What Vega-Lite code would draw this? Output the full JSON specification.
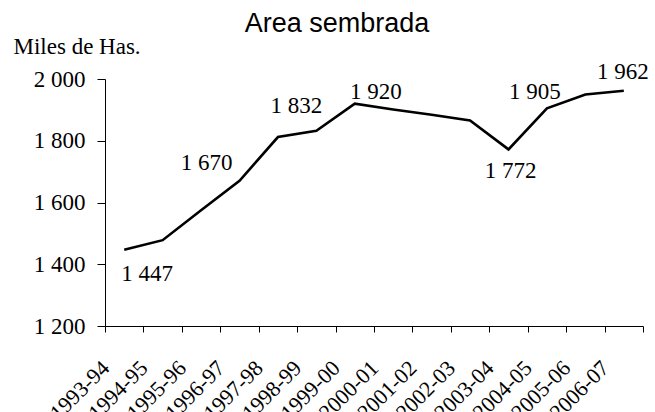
{
  "$schema": "https://vega.github.io/schema/vega-lite/v6.json",
  "width": 538,
  "height": 247,
  "autosize": {"type": "none"},
  "padding": {"left": 105, "top": 79, "right": 12, "bottom": 86},
  "background": "white",
  "title": {
    "text": "Area sembrada",
    "font": "Liberation Sans",
    "fontSize": 27,
    "fontWeight": "normal",
    "color": "black",
    "anchor": "middle",
    "frame": "group",
    "dx": -37,
    "dy": 7
  },
  "data": {
    "values": [
      {"season": "1993-94", "area": 1447},
      {"season": "1994-95", "area": 1478},
      {"season": "1995-96", "area": 1575},
      {"season": "1996-97", "area": 1670},
      {"season": "1997-98", "area": 1812},
      {"season": "1998-99", "area": 1832},
      {"season": "1999-00", "area": 1920},
      {"season": "2000-01", "area": 1901},
      {"season": "2001-02", "area": 1884},
      {"season": "2002-03", "area": 1866},
      {"season": "2003-04", "area": 1772},
      {"season": "2004-05", "area": 1905},
      {"season": "2005-06", "area": 1950},
      {"season": "2006-07", "area": 1962}
    ]
  },
  "encoding": {
    "x": {
      "field": "season",
      "type": "ordinal",
      "sort": null,
      "scale": {"type": "band", "paddingInner": 0, "paddingOuter": 0},
      "axis": {
        "title": null,
        "tickBand": "extent",
        "tickSize": 6,
        "tickColor": "black",
        "domainColor": "black",
        "labelAngle": -45,
        "labelAlign": "right",
        "labelBaseline": "middle",
        "labelOffset": -19,
        "labelPadding": 32,
        "labelFont": "Times New Roman, Liberation Serif, serif",
        "labelFontSize": 22,
        "labelColor": "black",
        "labelOverlap": false,
        "grid": false
      }
    },
    "y": {
      "field": "area",
      "type": "quantitative",
      "scale": {"domain": [1200, 2000], "nice": false, "zero": false},
      "axis": {
        "values": [1200, 1400, 1600, 1800, 2000],
        "format": ",d",
        "tickSize": 8,
        "tickColor": "black",
        "domainColor": "black",
        "labelPadding": 12,
        "labelFont": "Times New Roman, Liberation Serif, serif",
        "labelFontSize": 23,
        "labelColor": "black",
        "labelBaseline": "middle",
        "grid": false,
        "title": "Miles de Has.",
        "titleAngle": 0,
        "titleAlign": "left",
        "titleBaseline": "alphabetic",
        "titleX": -92,
        "titleY": -26,
        "titleFont": "Times New Roman, Liberation Serif, serif",
        "titleFontSize": 23,
        "titleFontWeight": "normal",
        "titleColor": "black"
      }
    }
  },
  "layer": [
    {"mark": {"type": "line", "color": "black", "strokeWidth": 2.6}},
    {
      "transform": [{"filter": {"field": "season", "equal": "1993-94"}}],
      "mark": {"type": "text", "font": "Times New Roman, Liberation Serif, serif", "fontSize": 23, "color": "black", "align": "center", "baseline": "alphabetic", "dx": 23, "dy": 31},
      "encoding": {"text": {"field": "area", "type": "quantitative", "format": ",d"}}
    },
    {
      "transform": [{"filter": {"field": "season", "equal": "1996-97"}}],
      "mark": {"type": "text", "font": "Times New Roman, Liberation Serif, serif", "fontSize": 23, "color": "black", "align": "center", "baseline": "alphabetic", "dx": -33, "dy": -11},
      "encoding": {"text": {"field": "area", "type": "quantitative", "format": ",d"}}
    },
    {
      "transform": [{"filter": {"field": "season", "equal": "1998-99"}}],
      "mark": {"type": "text", "font": "Times New Roman, Liberation Serif, serif", "fontSize": 23, "color": "black", "align": "center", "baseline": "alphabetic", "dx": -20, "dy": -18},
      "encoding": {"text": {"field": "area", "type": "quantitative", "format": ",d"}}
    },
    {
      "transform": [{"filter": {"field": "season", "equal": "1999-00"}}],
      "mark": {"type": "text", "font": "Times New Roman, Liberation Serif, serif", "fontSize": 23, "color": "black", "align": "center", "baseline": "alphabetic", "dx": 21, "dy": -5},
      "encoding": {"text": {"field": "area", "type": "quantitative", "format": ",d"}}
    },
    {
      "transform": [{"filter": {"field": "season", "equal": "2003-04"}}],
      "mark": {"type": "text", "font": "Times New Roman, Liberation Serif, serif", "fontSize": 23, "color": "black", "align": "center", "baseline": "alphabetic", "dx": 2, "dy": 29},
      "encoding": {"text": {"field": "area", "type": "quantitative", "format": ",d"}}
    },
    {
      "transform": [{"filter": {"field": "season", "equal": "2004-05"}}],
      "mark": {"type": "text", "font": "Times New Roman, Liberation Serif, serif", "fontSize": 23, "color": "black", "align": "center", "baseline": "alphabetic", "dx": -12, "dy": -9},
      "encoding": {"text": {"field": "area", "type": "quantitative", "format": ",d"}}
    },
    {
      "transform": [{"filter": {"field": "season", "equal": "2006-07"}}],
      "mark": {"type": "text", "font": "Times New Roman, Liberation Serif, serif", "fontSize": 23, "color": "black", "align": "center", "baseline": "alphabetic", "dx": -1, "dy": -12},
      "encoding": {"text": {"field": "area", "type": "quantitative", "format": ",d"}}
    }
  ],
  "config": {
    "view": {"stroke": null},
    "locale": {"number": {"decimal": ",", "thousands": " ", "grouping": [3], "currency": ["$", ""]}}
  }
}
